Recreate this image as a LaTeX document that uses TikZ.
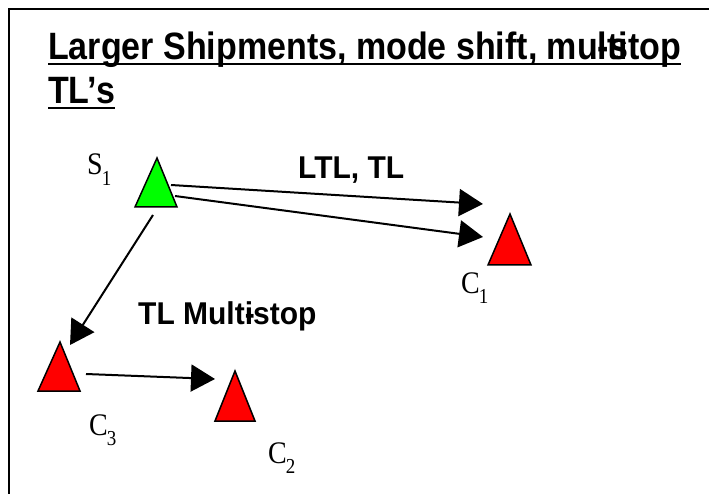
\documentclass[tikz,border=0pt]{standalone}
\usepackage{fontspec}
\setmainfont{Liberation Serif}
\newfontfamily\headfont{Liberation Sans}
\usetikzlibrary{arrows.meta}
\definecolor{sitegreen}{RGB}{0,255,0}
\definecolor{custred}{RGB}{255,0,0}
\tikzset{
  frameline/.style={line width=2.5pt,black},
  title/.style={anchor=base west,inner sep=0pt,yscale=1.12,font=\headfont\bfseries\fontsize{34}{40}\selectfont},
  ulinestyle/.style={line width=2pt,black},
  flowlabel/.style={anchor=base west,inner sep=0pt,yscale=1.05,font=\headfont\bfseries\fontsize{30}{34}\selectfont},
  pointlabel/.style={anchor=base west,inner sep=0pt,yscale=1.12,font=\fontsize{28}{32}\selectfont},
  sitetri/.style={draw=black,line width=1.5pt,line join=miter,fill=#1},
  flow/.style={line width=2pt,-{Triangle[length=24pt,width=27pt]}}
}
\newcommand{\ptlab}[2]{#1\kern-1pt\raisebox{-9pt}{\fontsize{19}{19}\selectfont #2}}
\begin{document}
\begin{tikzpicture}[x=1pt,y=-1pt]
\useasboundingbox (0,0) rectangle (709,494);
\fill[white] (0,0) rectangle (709,494);
% frame, running off the right and bottom edges
\draw[frameline] (9,494) -- (9,9) -- (709,9);

% heading
\node[title] (head1) at (48,60) {Larger Shipments, mode shift, mu\rlap{lti}-stop};
\node[title] (head2) at (48,104) {TL’s};
\draw[ulinestyle] (head1.base west) ++(0,4) -- ([yshift=-4pt]head1.base east);
\draw[ulinestyle] (head2.base west) ++(0,4) -- ([yshift=-4pt]head2.base east);

% sites
\filldraw[sitetri=sitegreen] (157,158) -- (177,207) -- (135,207) -- cycle;
\filldraw[sitetri=custred] (510,214) -- (531,265) -- (488,265) -- cycle;
\filldraw[sitetri=custred] (60,342) -- (80,391) -- (38,391) -- cycle;
\filldraw[sitetri=custred] (235,371) -- (255,421) -- (215,421) -- cycle;

% site labels
\node[pointlabel] (s1) at (87,175) {\ptlab{S}{1}};
\node[pointlabel] (c1) at (461,293) {\ptlab{C}{1}};
\node[pointlabel] (c3) at (89,435) {\ptlab{C}{3}};
\node[pointlabel] (c2) at (268,463) {\ptlab{C}{2}};

% flow labels
\node[flowlabel] (ltl) at (298,179) {LTL, TL};
\node[flowlabel] (multi) at (138,324) {TL Mult\rlap{-}istop};

% connector ends
\coordinate (s1a) at (171,185);
\coordinate (s1b) at (175,196);
\coordinate (s1c) at (153,215);
\coordinate (c1a) at (483,204);
\coordinate (c1b) at (483,237);
\coordinate (c3in) at (70,345);
\coordinate (c3out) at (86,374);
\coordinate (c2in) at (215,379);

% flows
\draw[flow] (s1a) -- (c1a);
\draw[flow] (s1b) -- (c1b);
\draw[flow] (s1c) -- (c3in);
\draw[flow] (c3out) -- (c2in);
\end{tikzpicture}
\end{document}
